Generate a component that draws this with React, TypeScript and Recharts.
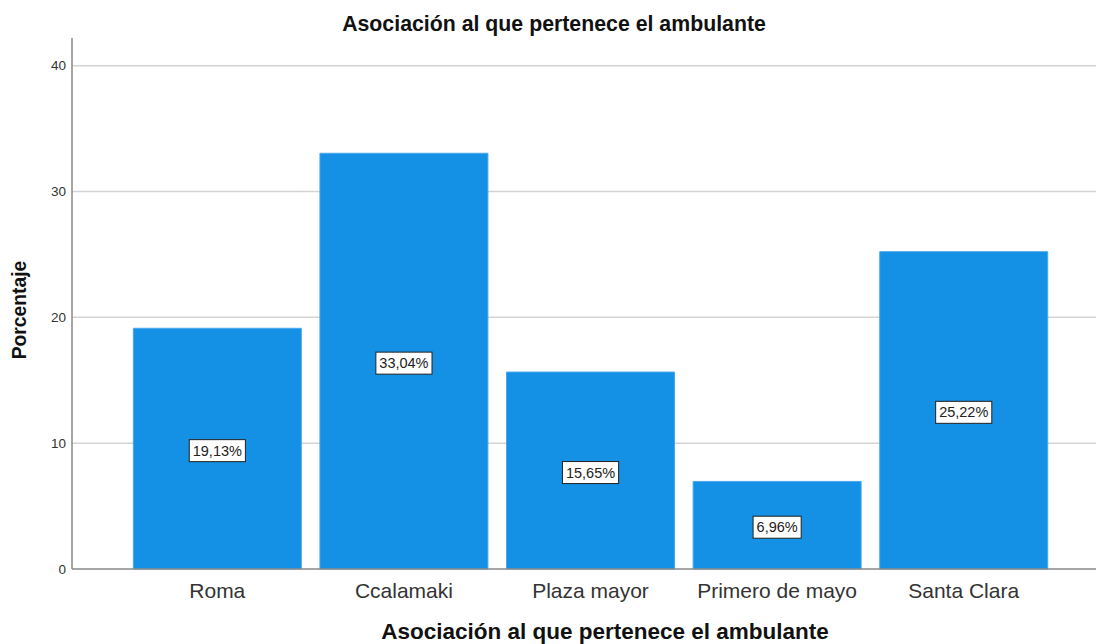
import { Bar, BarChart, CartesianGrid, LabelList, XAxis, YAxis } from "recharts";

const categories = ["Roma", "Ccalamaki", "Plaza mayor", "Primero de mayo", "Santa Clara"];
const percentages = [19.13, 33.04, 15.65, 6.96, 25.22];
const yTicks = [0, 10, 20, 30, 40];

const data = categories.map((name, i) => ({ name, value: percentages[i] }));

const FONT = "'Liberation Sans', Arial, sans-serif";

function BoxLabel(props: any) {
  const { x, y, width, height, value } = props;
  const text = value.toFixed(2).replace(".", ",") + "%";
  const cx = x + width / 2;
  const cy = y + height / 2;
  // rough width of the text at 14.5px
  let w = 0;
  for (const ch of text) w += ch === "," ? 4 : ch === "%" ? 12.9 : 8.06;
  const bw = w + 7;
  const bh = 22;
  return (
    <g>
      <rect x={cx - bw / 2} y={cy - bh / 2 + 2} width={bw} height={bh} fill="#fff" stroke="#222" strokeWidth={1} />
      <text x={cx} y={cy + 7} textAnchor="middle" fontSize={14.5} fontFamily={FONT} fill="#222">
        {text}
      </text>
    </g>
  );
}

export default function App() {
  return (
    <div style={{ position: "absolute", left: 0, top: 0, width: 1096, height: 644, background: "#fff" }}>
      <BarChart
        width={1096}
        height={644}
        data={data}
        margin={{ top: 38, right: 0, bottom: 0, left: 0 }}
        barCategoryGap="5%"
      >
        <text x={554} y={31} textAnchor="middle" fontSize={21.3} fontWeight="bold" fontFamily={FONT} fill="#111">
          Asociación al que pertenece el ambulante
        </text>
        <text x={605} y={639} textAnchor="middle" fontSize={22.5} fontWeight="bold" fontFamily={FONT} fill="#111">
          Asociación al que pertenece el ambulante
        </text>
        <text
          x={26}
          y={310}
          transform="rotate(-90 26 310)"
          textAnchor="middle"
          fontSize={19.3}
          fontWeight="bold"
          fontFamily={FONT}
          fill="#111"
        >
          Porcentaje
        </text>
        <CartesianGrid vertical={false} stroke="#d4d4d4" strokeWidth={1.5} horizontalValues={[10, 20, 30, 40]} />
        <XAxis
          dataKey="name"
          height={75}
          padding={{ left: 52, right: 39 }}
          tickLine={false}
          axisLine={{ stroke: "#888", strokeWidth: 1.5 }}
          tick={{ fontSize: 21, fill: "#333", fontFamily: FONT }}
          tickMargin={8}
        />
        <YAxis
          width={72}
          domain={[0, 42.2]}
          ticks={yTicks}
          tickLine={false}
          tickSize={0}
          axisLine={{ stroke: "#888", strokeWidth: 1.5 }}
          tick={{ fontSize: 13.5, fill: "#333", fontFamily: FONT }}
          tickMargin={6}
        />
        <Bar dataKey="value" fill="#1490e4" stroke="#4aa8ec" strokeWidth={1} isAnimationActive={false}>
          <LabelList dataKey="value" content={BoxLabel} />
        </Bar>
      </BarChart>
    </div>
  );
}
